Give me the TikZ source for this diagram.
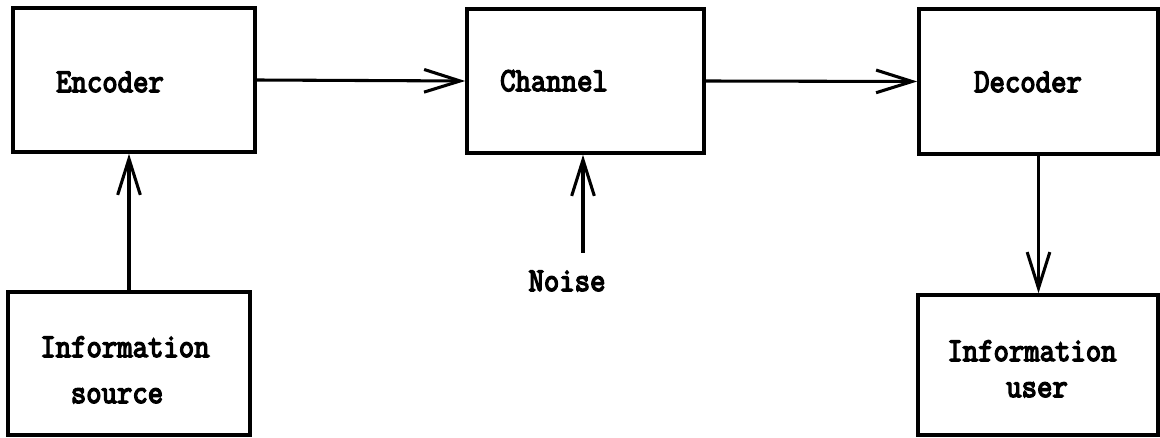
\documentclass[tikz,border=0pt]{standalone}
\usepackage{fontspec}
\setmonofont{Latin Modern Mono}[AutoFakeBold=4.5]
\usetikzlibrary{arrows.meta}
\newcommand\twfont{\ttfamily\bfseries\fontsize{22.4pt}{26pt}\selectfont}
\begin{document}
\begin{tikzpicture}[x=0.75pt,y=-0.75pt,
  blk/.style={draw=black, line width=2.7pt, inner sep=0pt},
  lbl/.style={font=\twfont, inner sep=0pt, anchor=base},
  arr/.style={line width=2.3pt, -{Straight Barb[length=27pt,width=17pt,line width=2.3pt]}}]
\useasboundingbox (0,0) rectangle (1160,438);
\node[blk, minimum width=181.5pt, minimum height=108pt] (enc) at (134,80) {};
\node[blk, minimum width=177.75pt, minimum height=108pt] (chan) at (585.5,81) {};
\node[blk, minimum width=179.25pt, minimum height=108.75pt] (dec) at (1038.5,81.5) {};
\node[blk, minimum width=181.5pt, minimum height=107.25pt] (src) at (129,363.5) {};
\node[blk, minimum width=180pt, minimum height=105pt] (usr) at (1038,365) {};
\node[lbl] (tenc) at (110,92) {\scalebox{1}[1.12]{Encoder}};
\node[lbl] (tchan) at (554,91) {\scalebox{1}[1.12]{Channel}};
\node[lbl] (tdec) at (1028,92) {\scalebox{1}[1.12]{Decoder}};
\node[lbl] (tsrc1) at (125,357) {\scalebox{1}[1.12]{Information}};
\node[lbl] (tsrc2) at (117,403) {\scalebox{1}[1.12]{source}};
\node[lbl] (tusr1) at (1032,361) {\scalebox{1}[1.12]{Information}};
\node[lbl] (tusr2) at (1037,397) {\scalebox{1}[1.12]{user}};
\node[lbl] (noise) at (567,291) {\scalebox{1}[1.12]{Noise}};
\coordinate (nz) at (583,253);
\draw[arr] (enc.east) -- (chan.west);
\draw[arr] (chan.east) -- (dec.west);
\draw[arr] (src.north) -- (src.north |- enc.south);
\draw[arr] (nz) -- (nz |- chan.south);
\draw[arr] (dec.south) -- (dec.south |- usr.north);
\end{tikzpicture}
\end{document}
